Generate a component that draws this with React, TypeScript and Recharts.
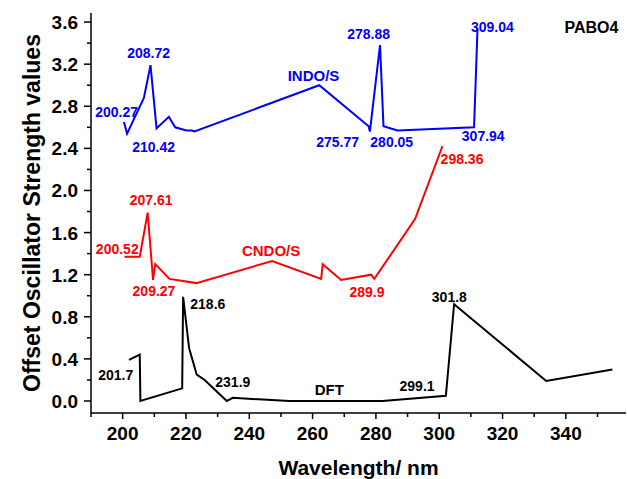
import React from 'react';
import { LineChart, Line, XAxis, YAxis, ReferenceDot } from 'recharts';

const FONT = '"Liberation Sans", Arial, Helvetica, sans-serif';
const BLUE = '#0000ff';
const RED = '#ff0000';
const BLACK = '#000000';

// INDO/S
const indoWavelength = [200.4, 201.4, 206.7, 208.8, 210.7, 214.6, 216.6, 220.1, 221.9, 222.7, 262.1, 277.7, 278.1, 281.3, 282.4, 286.8, 311.0, 312.1];
const indoStrength = [2.65, 2.54, 2.88, 3.19, 2.59, 2.7, 2.6, 2.57, 2.57, 2.56, 3.0, 2.61, 2.56, 3.38, 2.61, 2.57, 2.6, 3.54];

// CNDO/S
const cndoWavelength = [200.6, 205.4, 207.9, 209.6, 210.3, 214.8, 223.3, 247.2, 262.7, 263.2, 269.0, 278.5, 279.5, 292.4, 301.0];
const cndoStrength = [1.37, 1.37, 1.79, 1.15, 1.3, 1.16, 1.12, 1.33, 1.16, 1.3, 1.15, 1.2, 1.16, 1.73, 2.42];

// DFT
const dftWavelength = [202.0, 205.4, 205.6, 218.8, 219.1, 221.0, 223.4, 225.9, 232.9, 234.8, 252.7, 282.1, 302.1, 304.7, 333.8, 354.7];
const dftStrength = [0.39, 0.44, 0.0, 0.12, 0.99, 0.5, 0.25, 0.2, 0.0, 0.03, 0.0, 0.0, 0.05, 0.92, 0.19, 0.3];

const xTicks = [190, 200, 210, 220, 230, 240, 250, 260, 270, 280, 290, 300, 310, 320, 330, 340, 350];
const yTicks = [0, 0.2, 0.4, 0.6, 0.8, 1.0, 1.2, 1.4, 1.6, 1.8, 2.0, 2.2, 2.4, 2.6, 2.8, 3.0, 3.2, 3.4, 3.6];
const topTicks = [0, 1, 2, 3, 4, 5, 6, 7, 8, 9];
const rightTicks = [0, 1, 2, 3, 4, 5, 6, 7, 8];

type Note = { x: number; y: number; text: string; color: string; size: number };

const indoNotes: Note[] = [
  { x: 198.1, y: 2.75, text: '200.27', color: BLUE, size: 14 },
  { x: 208.2, y: 3.31, text: '208.72', color: BLUE, size: 14 },
  { x: 209.8, y: 2.41, text: '210.42', color: BLUE, size: 14 },
  { x: 260.3, y: 3.09, text: 'INDO/S', color: BLUE, size: 15 },
  { x: 267.9, y: 2.46, text: '275.77', color: BLUE, size: 14 },
  { x: 277.7, y: 3.49, text: '278.88', color: BLUE, size: 14 },
  { x: 285.0, y: 2.46, text: '280.05', color: BLUE, size: 14 },
  { x: 316.8, y: 3.55, text: '309.04', color: BLUE, size: 14 },
  { x: 313.9, y: 2.52, text: '307.94', color: BLUE, size: 14 },
];

const cndoNotes: Note[] = [
  { x: 209.0, y: 1.91, text: '207.61', color: RED, size: 14 },
  { x: 198.3, y: 1.44, text: '200.52', color: RED, size: 14 },
  { x: 246.9, y: 1.43, text: 'CNDO/S', color: RED, size: 15 },
  { x: 209.9, y: 1.05, text: '209.27', color: RED, size: 14 },
  { x: 277.2, y: 1.04, text: '289.9', color: RED, size: 14 },
  { x: 307.2, y: 2.3, text: '298.36', color: RED, size: 14 },
];

const dftNotes: Note[] = [
  { x: 226.9, y: 0.92, text: '218.6', color: BLACK, size: 14 },
  { x: 197.8, y: 0.25, text: '201.7', color: BLACK, size: 14 },
  { x: 234.8, y: 0.18, text: '231.9', color: BLACK, size: 14 },
  { x: 265.3, y: 0.11, text: 'DFT', color: BLACK, size: 15 },
  { x: 303.2, y: 0.99, text: '301.8', color: BLACK, size: 14 },
  { x: 293.0, y: 0.14, text: '299.1', color: BLACK, size: 14 },
  { x: 348.1, y: 3.55, text: 'PABO4', color: BLACK, size: 16 },
];

const toPoints = (xs: number[], ys: number[]) => xs.map((x, i) => ({ x, y: ys[i] }));

const indoData = toPoints(indoWavelength, indoStrength);
const cndoData = toPoints(cndoWavelength, cndoStrength);
const dftData = toPoints(dftWavelength, dftStrength);

const BottomTick = ({ x, y, payload }: any) => {
  const v = payload.value;
  const major = v % 20 === 0;
  return (
    <g>
      <line x1={x} y1={y} x2={x} y2={y + (major ? 6 : 4)} stroke={BLACK} strokeWidth={1.5} />
      {major && (
        <text x={x} y={y + 27} textAnchor="middle" fontSize={19} fontWeight="bold" fontFamily={FONT} fill={BLACK}>
          {v}
        </text>
      )}
    </g>
  );
};

const LeftTick = ({ x, y, payload }: any) => {
  const v = payload.value;
  const major = Math.round(v * 10) % 4 === 0;
  return (
    <g>
      <line x1={x} y1={y} x2={x - (major ? 7 : 4)} y2={y} stroke={BLACK} strokeWidth={1.5} />
      {major && (
        <text x={x - 13} y={y + 7} textAnchor="end" fontSize={19} fontWeight="bold" fontFamily={FONT} fill={BLACK}>
          {v.toFixed(1)}
        </text>
      )}
    </g>
  );
};

const TopTick = ({ x, y }: any) => <line x1={x} y1={y} x2={x} y2={y + 5} stroke={BLACK} strokeWidth={1.5} />;

const RightTick = ({ x, y }: any) => <line x1={x} y1={y} x2={x - 5} y2={y} stroke={BLACK} strokeWidth={1.5} />;

const XTitle = ({ viewBox }: any) => {
  const vb = viewBox || { x: 91, y: 413, width: 535 };
  return (
    <text x={vb.x + vb.width / 2} y={vb.y + 62} textAnchor="middle" fontSize={21} fontWeight="bold" fontFamily={FONT} fill={BLACK}>
      Wavelength/ nm
    </text>
  );
};

const YTitle = ({ viewBox }: any) => {
  const vb = viewBox || { y: 13, height: 400 };
  const cy = vb.y + vb.height / 2;
  return (
    <text x={0} y={0} transform={`translate(40, ${cy}) rotate(-90)`} textAnchor="middle" fontSize={23} fontWeight="bold" fontFamily={FONT} fill={BLACK}>
      Offset Oscillator Strength values
    </text>
  );
};

const renderNote = (n: Note) => (
  <ReferenceDot
    key={`${n.text}-${n.x}`}
    x={n.x}
    y={n.y}
    r={0}
    ifOverflow="visible"
    shape={(p: any) => (
      <text x={p.cx} y={p.cy} dy="0.36em" textAnchor="middle" fontSize={n.size} fontWeight="bold" fontFamily={FONT} fill={n.color}>
        {n.text}
      </text>
    )}
  />
);

export default function App() {
  return (
    <div style={{ position: 'absolute', left: 0, top: 0, width: 627, height: 479, background: '#fff' }}>
      <LineChart width={627} height={479} margin={{ top: 13, right: 1, bottom: 0, left: 0 }}>
        <XAxis
          dataKey="x"
          type="number"
          domain={[190, 359]}
          ticks={xTicks}
          interval={0}
          allowDataOverflow
          height={66}
          tickSize={0}
          tickMargin={0}
          tick={<BottomTick />}
          axisLine={{ stroke: BLACK, strokeWidth: 1.5 }}
          label={<XTitle />}
        />
        <XAxis
          xAxisId="top"
          orientation="top"
          type="number"
          domain={[0, 9.907]}
          ticks={topTicks}
          interval={0}
          allowDataOverflow
          height={0}
          tickSize={0}
          tickMargin={0}
          tick={<TopTick />}
          axisLine={{ stroke: BLACK, strokeWidth: 1.5 }}
        />
        <YAxis
          type="number"
          domain={[-0.114, 3.686]}
          ticks={yTicks}
          interval={0}
          allowDataOverflow
          width={91}
          tickSize={0}
          tickMargin={0}
          tick={<LeftTick />}
          axisLine={{ stroke: BLACK, strokeWidth: 1.5 }}
          label={<YTitle />}
        />
        <YAxis
          yAxisId="right"
          orientation="right"
          type="number"
          domain={[-1, 9]}
          ticks={rightTicks}
          interval={0}
          allowDataOverflow
          width={0}
          tickSize={0}
          tickMargin={0}
          tick={<RightTick />}
          axisLine={{ stroke: BLACK, strokeWidth: 1.5 }}
        />
        <Line data={indoData} dataKey="y" stroke={BLUE} strokeWidth={2} dot={false} isAnimationActive={false} type="linear" />
        <Line data={cndoData} dataKey="y" stroke={RED} strokeWidth={2} dot={false} isAnimationActive={false} type="linear" />
        <Line data={dftData} dataKey="y" stroke={BLACK} strokeWidth={2} dot={false} isAnimationActive={false} type="linear" />
        {indoNotes.map(renderNote)}
        {cndoNotes.map(renderNote)}
        {dftNotes.map(renderNote)}
      </LineChart>
    </div>
  );
}
